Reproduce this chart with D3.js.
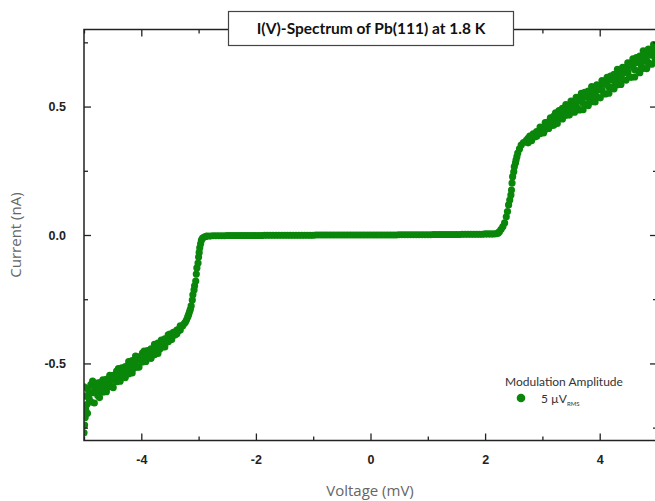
<!DOCTYPE html>
<html>
<head>
<meta charset="utf-8">
<script src="https://cdn.jsdelivr.net/npm/d3@7"></script>
<style>
  body { margin: 0; background: #fff; }
  svg { display: block; }
</style>
</head>
<body>
<div id="chart1"><svg width="655" height="501"></svg></div>
<script>
// [voltage (mV), current (nA)], split by region of the sweep
const negBranch = [
  [-5.00,-0.669],[-5.00,-0.591],[-5.00,-0.770],[-4.99,-0.740],[-4.98,-0.710],[-4.95,-0.660],
  [-4.97,-0.681],[-4.97,-0.627],[-4.94,-0.598],[-4.94,-0.694],[-4.91,-0.613],[-4.91,-0.638],
  [-4.88,-0.582],[-4.88,-0.650],[-4.85,-0.614],[-4.85,-0.569],[-4.82,-0.654],[-4.82,-0.591],
  [-4.79,-0.611],[-4.79,-0.577],[-4.76,-0.625],[-4.76,-0.591],[-4.73,-0.633],[-4.73,-0.575],
  [-4.70,-0.590],[-4.70,-0.604],[-4.67,-0.564],[-4.67,-0.612],[-4.64,-0.572],[-4.64,-0.587],
  [-4.61,-0.562],[-4.61,-0.610],[-4.58,-0.568],[-4.58,-0.592],[-4.55,-0.585],[-4.55,-0.546],
  [-4.52,-0.590],[-4.52,-0.563],[-4.49,-0.546],[-4.49,-0.594],[-4.46,-0.550],[-4.46,-0.565],
  [-4.43,-0.530],[-4.43,-0.571],[-4.40,-0.547],[-4.40,-0.520],[-4.37,-0.569],[-4.37,-0.531],
  [-4.34,-0.543],[-4.34,-0.517],[-4.31,-0.551],[-4.31,-0.526],[-4.28,-0.555],[-4.28,-0.512],
  [-4.25,-0.520],[-4.25,-0.534],[-4.22,-0.493],[-4.22,-0.541],[-4.19,-0.500],[-4.19,-0.515],
  [-4.16,-0.489],[-4.16,-0.537],[-4.13,-0.494],[-4.13,-0.518],[-4.10,-0.510],[-4.10,-0.471],
  [-4.07,-0.514],[-4.07,-0.487],[-4.04,-0.474],[-4.04,-0.514],[-4.01,-0.477],[-4.01,-0.489],
  [-3.98,-0.460],[-3.98,-0.494],[-3.95,-0.475],[-3.95,-0.452],[-3.92,-0.492],[-3.92,-0.461],
  [-3.89,-0.471],[-3.89,-0.450],[-3.86,-0.477],[-3.86,-0.456],[-3.83,-0.480],[-3.83,-0.443],
  [-3.80,-0.450],[-3.80,-0.461],[-3.77,-0.426],[-3.77,-0.466],[-3.74,-0.431],[-3.74,-0.443],
  [-3.71,-0.421],[-3.71,-0.461],[-3.68,-0.425],[-3.68,-0.445],[-3.65,-0.435],[-3.65,-0.409],
  [-3.62,-0.436],[-3.62,-0.418],[-3.59,-0.404],[-3.59,-0.436],[-3.56,-0.405],[-3.56,-0.415],
  [-3.53,-0.389],[-3.53,-0.416],[-3.50,-0.399],[-3.50,-0.386],[-3.47,-0.407],[-3.47,-0.388],
  [-3.44,-0.391],[-3.44,-0.379],[-3.41,-0.388],[-3.41,-0.380],[-3.38,-0.384],[-3.38,-0.370],
  [-3.35,-0.368],[-3.35,-0.373],[-3.32,-0.354],[-3.32,-0.370]
];

const negGap = [
  [-3.28,-0.354],[-3.25,-0.345],[-3.23,-0.339],[-3.21,-0.330],[-3.19,-0.319],
  [-3.175,-0.310],[-3.16,-0.300],[-3.145,-0.290],[-3.13,-0.276],[-3.11,-0.253],
  [-3.10,-0.233],[-3.08,-0.214],[-3.07,-0.198],[-3.05,-0.179],[-3.04,-0.152],
  [-3.03,-0.128],[-3.01,-0.109],[-3.00,-0.086],[-2.99,-0.068],[-2.98,-0.050],
  [-2.965,-0.034],[-2.95,-0.020],[-2.93,-0.012],[-2.90,-0.008],[-2.87,-0.005]
];

const flat = [
  [-2.85,-0.004],[-2.80,-0.004],[-2.75,-0.003],[-2.70,-0.003],[-2.65,-0.003],
  [-2.60,-0.003],[-2.55,-0.003],[-2.50,-0.002],[-2.45,-0.002],[-2.40,-0.002],
  [-2.35,-0.002],[-2.30,-0.002],[-2.25,-0.002],[-2.20,-0.002],[-2.15,-0.002],
  [-2.10,-0.002],[-2.05,-0.002],[-2.00,-0.002],[-1.95,-0.002],[-1.90,-0.002],
  [-1.85,-0.001],[-1.80,-0.001],[-1.75,-0.001],[-1.70,-0.001],[-1.65,-0.001],
  [-1.60,-0.001],[-1.55,-0.001],[-1.50,-0.001],[-1.45,-0.001],[-1.40,-0.001],
  [-1.35,-0.001],[-1.30,-0.001],[-1.25,-0.001],[-1.20,-0.001],[-1.15,-0.001],
  [-1.10,-0.001],[-1.05,-0.001],[-1.00,-0.001],[-0.95,0.000],[-0.90,0.000],
  [-0.85,0.000],[-0.80,0.000],[-0.75,0.000],[-0.70,0.000],[-0.65,0.000],
  [-0.60,0.000],[-0.55,0.000],[-0.50,0.000],[-0.45,0.000],[-0.40,0.000],
  [-0.35,0.000],[-0.30,0.000],[-0.25,0.000],[-0.20,0.000],[-0.15,0.000],
  [-0.10,0.000],[-0.05,0.000],[0.00,0.000],[0.05,0.000],[0.10,0.000],
  [0.15,0.000],[0.20,0.000],[0.25,0.000],[0.30,0.000],[0.35,0.000],
  [0.40,0.000],[0.45,0.000],[0.50,0.001],[0.55,0.001],[0.60,0.001],
  [0.65,0.001],[0.70,0.001],[0.75,0.001],[0.80,0.001],[0.85,0.001],
  [0.90,0.001],[0.95,0.001],[1.00,0.001],[1.05,0.001],[1.10,0.002],
  [1.15,0.002],[1.20,0.002],[1.25,0.002],[1.30,0.002],[1.35,0.002],
  [1.40,0.002],[1.45,0.002],[1.50,0.002],[1.55,0.002],[1.60,0.003],
  [1.65,0.003],[1.70,0.003],[1.75,0.003],[1.80,0.003],[1.85,0.003],
  [1.90,0.003],[1.95,0.003],[2.00,0.004],[2.05,0.004],[2.10,0.004],
  [2.15,0.004]
];

const posGap = [
  [2.20,0.005],[2.23,0.008],[2.25,0.013],[2.28,0.022],[2.31,0.033],
  [2.34,0.047],[2.37,0.071],[2.39,0.091],[2.41,0.117],[2.43,0.136],
  [2.45,0.156],[2.46,0.175],[2.47,0.202],[2.48,0.227],[2.50,0.246],
  [2.51,0.266],[2.53,0.280],[2.54,0.292],[2.555,0.305],[2.57,0.319],
  [2.60,0.335],[2.63,0.350],[2.67,0.360],[2.72,0.368]
];

const posBranch = [
  [2.75,0.376],[2.75,0.359],[2.78,0.375],[2.78,0.385],[2.81,0.375],[2.81,0.367],
  [2.84,0.389],[2.84,0.394],[2.87,0.382],[2.87,0.391],[2.90,0.384],[2.90,0.403],
  [2.93,0.400],[2.93,0.394],[2.96,0.420],[2.96,0.395],[2.99,0.415],[2.99,0.418],
  [3.02,0.412],[3.02,0.397],[3.05,0.438],[3.05,0.411],[3.08,0.429],[3.08,0.439],
  [3.11,0.415],[3.11,0.439],[3.14,0.435],[3.14,0.456],[3.17,0.427],[3.17,0.454],
  [3.20,0.463],[3.20,0.428],[3.23,0.456],[3.23,0.476],[3.26,0.451],[3.26,0.434],
  [3.29,0.474],[3.29,0.484],[3.32,0.455],[3.32,0.475],[3.35,0.452],[3.35,0.493],
  [3.38,0.479],[3.38,0.469],[3.41,0.508],[3.41,0.466],[3.44,0.495],[3.44,0.500],
  [3.47,0.486],[3.47,0.467],[3.50,0.521],[3.50,0.480],[3.53,0.504],[3.53,0.519],
  [3.56,0.478],[3.56,0.514],[3.59,0.504],[3.59,0.536],[3.62,0.491],[3.62,0.525],
  [3.65,0.536],[3.65,0.487],[3.68,0.523],[3.68,0.551],[3.71,0.513],[3.71,0.488],
  [3.74,0.541],[3.74,0.555],[3.77,0.510],[3.77,0.538],[3.80,0.504],[3.80,0.560],
  [3.83,0.539],[3.83,0.525],[3.86,0.578],[3.86,0.519],[3.89,0.558],[3.89,0.565],
  [3.92,0.544],[3.92,0.518],[3.95,0.585],[3.95,0.538],[3.98,0.564],[3.98,0.582],
  [4.01,0.534],[4.01,0.576],[4.04,0.565],[4.04,0.601],[4.07,0.550],[4.07,0.589],
  [4.10,0.598],[4.10,0.549],[4.13,0.585],[4.13,0.614],[4.16,0.576],[4.16,0.552],
  [4.19,0.605],[4.19,0.619],[4.22,0.575],[4.22,0.603],[4.25,0.569],[4.25,0.625],
  [4.28,0.605],[4.28,0.591],[4.31,0.645],[4.31,0.585],[4.34,0.625],[4.34,0.632],
  [4.37,0.612],[4.37,0.586],[4.40,0.653],[4.40,0.606],[4.43,0.633],[4.43,0.651],
  [4.46,0.603],[4.46,0.645],[4.49,0.634],[4.49,0.670],[4.52,0.616],[4.52,0.660],
  [4.55,0.670],[4.55,0.614],[4.58,0.654],[4.58,0.686],[4.61,0.643],[4.61,0.615],
  [4.64,0.675],[4.64,0.691],[4.67,0.639],[4.67,0.671],[4.70,0.632],[4.70,0.696],
  [4.73,0.672],[4.73,0.656],[4.76,0.717],[4.76,0.649],[4.79,0.693],[4.79,0.701],
  [4.82,0.678],[4.82,0.648],[4.85,0.724],[4.85,0.670],[4.88,0.700],[4.88,0.720],
  [4.91,0.665],[4.91,0.713],[4.94,0.699],[4.94,0.741],[4.97,0.682],[4.97,0.726],
  [5.00,0.736],[5.00,0.680]
];

const xDomain = [-5, 5];
const yDomain = [-0.8, 0.8];
const xMajor = [-4, -2, 0, 2, 4];
const xMinor = [-5, -3, -1, 1, 3, 5];
const yMajor = [-0.5, 0, 0.5];
const yMinor = [-0.75, -0.25, 0.25, 0.75];

const TITLE = 'I(V)-Spectrum of Pb(111) at 1.8 K';
const X_LABEL = 'Voltage (mV)';
const Y_LABEL = 'Current (nA)';
const LEGEND_TITLE = 'Modulation Amplitude';

const svg = d3.select('#chart1 svg');

const LEFT = 84, RIGHT = 657, TOP = 29.5, BOTTOM = 440.5;
const GREEN = '#0a870a';
const AXIS = '#222';

const xScale = d3.scaleLinear().domain(xDomain).range([LEFT, RIGHT]);
const yScale = d3.scaleLinear().domain(yDomain).range([BOTTOM, TOP]);

// plain hyphen for negatives, as in the original
const fmt = (spec) => (d) => d3.format(spec)(d).replace('\u2212', '-');

const styleAxis = (g) => {
    g.select('.domain').remove();
    g.selectAll('line').attr('stroke', AXIS).attr('stroke-width', 1.3);
};

const styleLabels = (g) => g.selectAll('text')
    .style('font-family', '"Liberation Sans", Arial, sans-serif')
    .style('font-size', '12.5px').style('font-weight', 'bold').attr('fill', AXIS);

const drawAxes = () => {
    // bottom: labels + inward ticks
    svg.append('g').attr('transform', `translate(0,${BOTTOM})`)
        .call(d3.axisBottom(xScale).tickValues(xMajor).tickSize(-7).tickPadding(15).tickFormat(fmt('d')))
        .call(styleAxis)
        .call(styleLabels);
    svg.append('g').attr('transform', `translate(0,${BOTTOM})`)
        .call(d3.axisBottom(xScale).tickValues(xMinor).tickSize(-4).tickFormat(''))
        .call(styleAxis);

    // top: ticks only
    svg.append('g').attr('transform', `translate(0,${TOP})`)
        .call(d3.axisTop(xScale).tickValues(xMajor).tickSize(-7).tickFormat(''))
        .call(styleAxis);
    svg.append('g').attr('transform', `translate(0,${TOP})`)
        .call(d3.axisTop(xScale).tickValues(xMinor).tickSize(-4).tickFormat(''))
        .call(styleAxis);

    // left
    svg.append('g').attr('transform', `translate(${LEFT},0)`)
        .call(d3.axisLeft(yScale).tickValues(yMajor).tickSize(-7).tickPadding(18).tickFormat(fmt('.1f')))
        .call(styleAxis)
        .call(styleLabels);
    svg.append('g').attr('transform', `translate(${LEFT},0)`)
        .call(d3.axisLeft(yScale).tickValues(yMinor).tickSize(-4).tickFormat(''))
        .call(styleAxis);

    // right: ticks only
    svg.append('g').attr('transform', `translate(${RIGHT},0)`)
        .call(d3.axisRight(yScale).tickValues(yMajor).tickSize(-7).tickFormat(''))
        .call(styleAxis);
    svg.append('g').attr('transform', `translate(${RIGHT},0)`)
        .call(d3.axisRight(yScale).tickValues(yMinor).tickSize(-4).tickFormat(''))
        .call(styleAxis);

    // frame
    svg.append('rect')
        .attr('x', LEFT).attr('y', TOP)
        .attr('width', RIGHT - LEFT).attr('height', BOTTOM - TOP)
        .attr('fill', 'none').attr('stroke', AXIS).attr('stroke-width', 1.5);
};

const drawPoints = () => {
    svg.append('clipPath').attr('id', 'plotClip')
        .append('rect')
        .attr('x', LEFT).attr('y', TOP)
        .attr('width', RIGHT - LEFT).attr('height', BOTTOM - TOP);

    const data = [...negBranch, ...negGap, ...flat, ...posGap, ...posBranch];
    svg.append('g')
        .attr('id', 'ivPoints')
        .attr('clip-path', 'url(#plotClip)')
        .selectAll('circle')
        .data(data)
        .join('circle')
        .attr('cx', d => xScale(d[0]))
        .attr('cy', d => yScale(d[1]))
        .attr('r', 3.6)
        .style('fill', GREEN);
};

const drawLabels = () => {
    svg.append('text')
        .attr('x', (LEFT + RIGHT) / 2 - 0.5).attr('y', 496)
        .attr('text-anchor', 'middle')
        .style('font-family', '"Open Sans", sans-serif')
        .style('font-size', '15px').attr('fill', '#666')
        .text(X_LABEL);

    svg.append('text')
        .attr('transform', `translate(21,${(TOP + BOTTOM) / 2}) rotate(-90)`)
        .attr('text-anchor', 'middle')
        .style('font-family', '"Open Sans", sans-serif')
        .style('font-size', '15px').attr('fill', '#666')
        .text(Y_LABEL);
};

const drawTitle = () => {
    svg.append('rect')
        .attr('x', 228.5).attr('y', 11.5).attr('width', 285).attr('height', 34)
        .attr('fill', '#fff').attr('stroke', '#444').attr('stroke-width', 1.2);
    svg.append('text')
        .attr('x', 371).attr('y', 34)
        .attr('text-anchor', 'middle')
        .style('font-family', 'Lato, sans-serif')
        .style('font-size', '15.5px').style('font-weight', 'bold')
        .attr('fill', '#111')
        .text(TITLE);
};

const drawLegend = () => {
    const g = svg.append('g').attr('id', 'legend');
    g.append('text')
        .attr('x', 505).attr('y', 386)
        .style('font-family', 'Lato, sans-serif')
        .style('font-size', '12px').attr('fill', '#333')
        .text(LEGEND_TITLE);
    g.append('circle').attr('cx', 521).attr('cy', 398).attr('r', 4.3).style('fill', GREEN);
    const t = g.append('text')
        .attr('x', 541).attr('y', 403)
        .style('font-family', 'Lato, sans-serif')
        .style('font-size', '12px').attr('fill', '#333');
    t.append('tspan').text('5 µV');
    t.append('tspan').attr('dy', 3).style('font-size', '6px').text('RMS');
};

drawPoints();
drawAxes();
drawLabels();
drawTitle();
drawLegend();
</script>
</body>
</html>
